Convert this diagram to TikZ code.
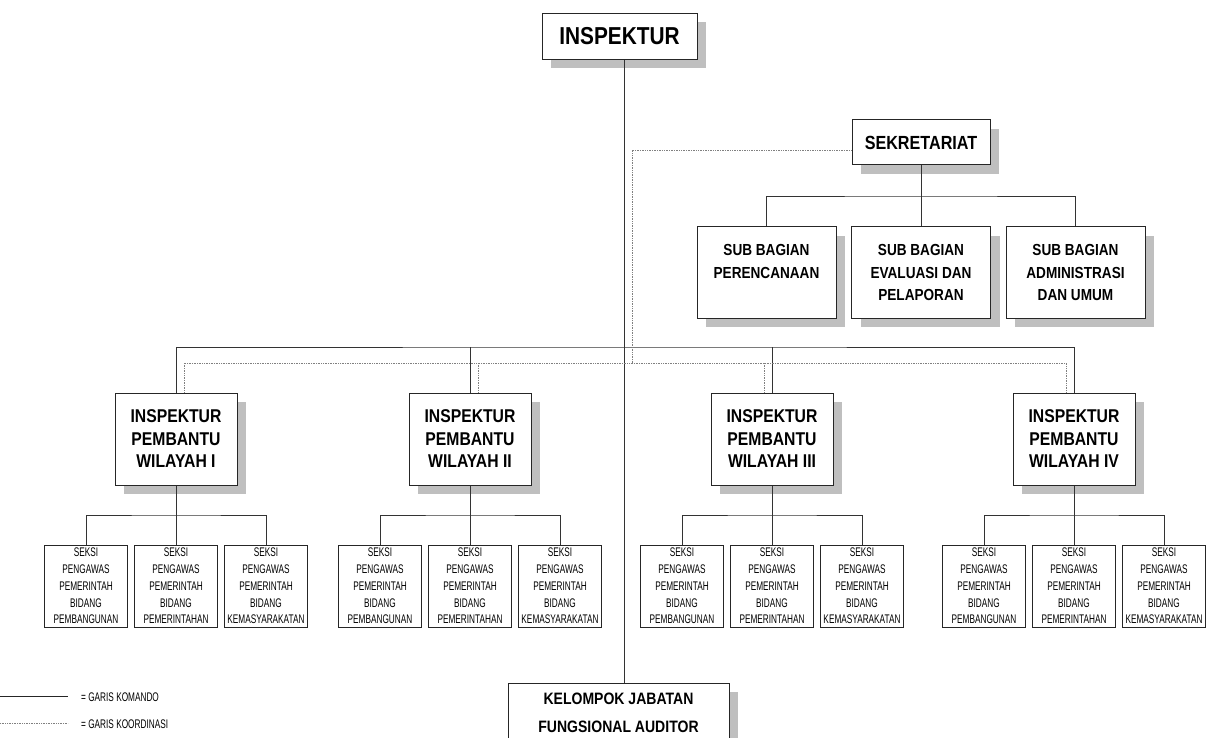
\documentclass[tikz,border=0pt]{standalone}
\usepackage{fontspec}
\setmainfont{Liberation Sans}[FakeStretch=0.85]
\newfontfamily\narrowfont{Liberation Sans}[FakeStretch=0.66]
\usetikzlibrary{shadows,calc}
\begin{document}
\begin{tikzpicture}[x=1pt,y=-1pt,
  box/.style={draw=black!85, line width=1pt, fill=white, align=center, inner sep=0pt,
    general shadow={fill=black!25, shadow xshift=9pt, shadow yshift=-9pt}},
  seksibox/.style={draw=black!85, line width=0.9pt, fill=white, align=center, inner sep=0pt,
    minimum width=83pt, minimum height=82pt, font=\narrowfont\fontsize{12.5}{16.7}\selectfont},
  ipbox/.style={box, minimum width=122pt, minimum height=92pt, font=\bfseries\fontsize{18.5}{22.5}\selectfont},
  sbbox/.style={box, minimum width=139pt, minimum height=91pt, font=\bfseries\fontsize{16}{22.5}\selectfont},
  cmd/.style={line width=0.9pt, draw=black!80},
  koord/.style={densely dotted, line width=0.7pt, draw=black!50},
  legendtext/.style={font=\narrowfont\fontsize{12.5}{14}\selectfont, inner sep=0pt, anchor=west}]
\path[use as bounding box] (0,0) rectangle (1208,738);
\clip (0,0) rectangle (1208,738);

% top
\node[box, minimum width=155pt, minimum height=46pt, font=\bfseries\fontsize{24.5}{26}\selectfont] (insp) at (619.5,36.5) {INSPEKTUR};
\node[box, minimum width=138pt, minimum height=45pt, font=\bfseries\fontsize{19}{21}\selectfont] (sek) at (921,142.5) {SEKRETARIAT};

% sub bagian
\node[sbbox] (sb1) at (766.5,272.5) {SUB BAGIAN\\PERENCANAAN\\\mbox{}};
\node[sbbox] (sb2) at (921,272.5) {SUB BAGIAN\\EVALUASI DAN\\PELAPORAN};
\node[sbbox] (sb3) at (1075.5,272.5) {SUB BAGIAN\\ADMINISTRASI\\DAN UMUM};

% inspektur pembantu
\node[ipbox] (ip1) at (176,439) {INSPEKTUR\\PEMBANTU\\WILAYAH I};
\node[ipbox] (ip2) at (470,439) {INSPEKTUR\\PEMBANTU\\WILAYAH II};
\node[ipbox] (ip3) at (772,439) {INSPEKTUR\\PEMBANTU\\WILAYAH III};
\node[ipbox] (ip4) at (1074,439) {INSPEKTUR\\PEMBANTU\\WILAYAH IV};

% seksi
\foreach \g/\x in {1/176,2/470,3/772,4/1074}{
  \node[seksibox] (s\g a) at (\x-90,586) {SEKSI\\PENGAWAS\\PEMERINTAH\\BIDANG\\PEMBANGUNAN};
  \node[seksibox] (s\g b) at (\x,586) {SEKSI\\PENGAWAS\\PEMERINTAH\\BIDANG\\PEMERINTAHAN};
  \node[seksibox] (s\g c) at (\x+90,586) {SEKSI\\PENGAWAS\\PEMERINTAH\\BIDANG\\KEMASYARAKATAN};
}

% kelompok
\node[box, minimum width=221pt, minimum height=60pt, font=\bfseries\fontsize{16.5}{28}\selectfont] (kel) at (618.5,713) {KELOMPOK JABATAN\\FUNGSIONAL AUDITOR};

% coordinates
\coordinate (spine) at (624,0);
\coordinate (cbus) at (624,347);
\coordinate (kbus) at (632,363);
\coordinate (sbus) at (921,196);
\coordinate (gbus) at (0,515);

% command lines
\draw[cmd] (insp.south -| spine) -- (kel.north -| spine);
\draw[cmd] ($(sek.west)+(0,-7.5)$) -- ($(sek.west)+(0,-7.5)$ -| spine);
\draw[cmd] (sek.south) -- (sbus);
\draw[cmd] (sb1.north) |- (sbus) -| (sb3.north);
\draw[cmd] (sb2.north) -- (sbus);
\draw[cmd] (ip1.north) |- (cbus) -| (ip4.north);
\draw[cmd] (ip2.north) -- (ip2.north |- cbus);
\draw[cmd] (ip3.north) -- (ip3.north |- cbus);
\foreach \g in {1,2,3,4}{
  \draw[cmd] (ip\g.south) -- (ip\g.south |- gbus);
  \draw[cmd] (s\g a.north) |- (ip\g.south |- gbus) -| (s\g c.north);
  \draw[cmd] (s\g b.north) -- (ip\g.south |- gbus);
}

% coordination lines
\draw[koord] ($(sek.west)+(0,7.5)$) -| (kbus);
\draw[koord] ($(ip1.north)+(8,0)$) |- (kbus) -| ($(ip4.north)+(-8,0)$);
\draw[koord] ($(ip2.north)+(8,0)$) coordinate (d2) -- (d2 |- kbus);
\draw[koord] ($(ip3.north)+(-8,0)$) coordinate (d3) -- (d3 |- kbus);

% legend
\coordinate (la1) at (0,696);
\coordinate (lb1) at (68,696);
\coordinate (la2) at (0,723);
\coordinate (lb2) at (68,723);
\draw[line width=0.8pt, draw=black!85] (la1) -- (lb1);
\draw[koord] (la2) -- (lb2);
\node[legendtext] (lt1) at (81,697) {= GARIS KOMANDO};
\node[legendtext] (lt2) at (81,724) {= GARIS KOORDINASI};
\end{tikzpicture}
\end{document}
